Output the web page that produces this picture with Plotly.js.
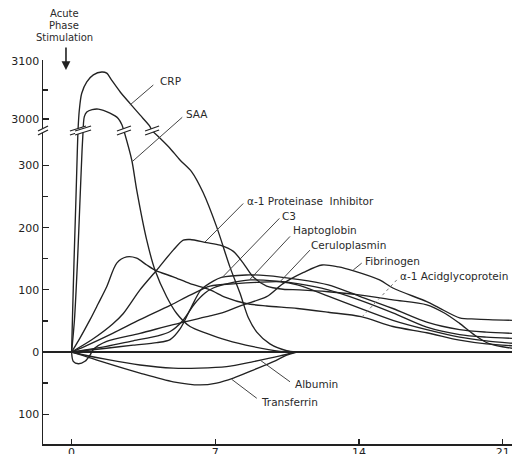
<!DOCTYPE html>
<html>
<head>
<meta charset="utf-8">
<script src="https://cdn.plot.ly/plotly-3.0.1.min.js"></script>
<style>
  html, body { margin: 0; padding: 0; background: #fff; }
  #chart { width: 512px; height: 454px; }
</style>
</head>
<body>
<div id="chart"></div>
<script>
// Days after the acute phase stimulus and change in plasma concentration (% of baseline).
// CRP and SAA climb into the thousands, so they are split at the scale break.
const crpRiseDay = [0, 0.04, 0.12, 0.21, 0.28, 0.31];
const crpRiseVal = [0, 52, 148, 245, 325, 356];
const crpPeakDay = [0.31, 0.375, 0.49, 0.74, 1.06, 1.47, 1.71, 1.95, 2.36, 2.84, 3.33, 3.82, 3.92];
const crpPeakVal = [2979, 3015, 3044, 3064, 3076, 3081, 3079, 3067, 3047, 3027, 3007, 2987, 2979];
const crpFallDay = [3.92, 4.31, 4.79, 5.28, 5.85, 6.4, 7.07, 7.71, 8.2, 8.61, 9.02, 9.66, 10.48, 10.93];
const crpFallVal = [356, 344, 328, 309, 290, 257, 201, 137, 95, 55, 32, 13, 2, 0];

const saaRiseDay = [0, 0.14, 0.29, 0.41, 0.51, 0.56];
const saaRiseVal = [0, 52, 148, 245, 325, 356];
const saaPeakDay = [0.56, 0.62, 0.74, 1.0, 1.3, 1.87, 2.27, 2.45, 2.55];
const saaPeakVal = [2979, 3004, 3012, 3016, 3017, 3010, 3001, 2990, 2979];
const saaFallDay = [2.55, 2.93, 3.17, 3.66, 4.06, 4.63, 5.12, 5.77, 6.58, 7.55, 8.85, 10.15, 10.64];
const saaFallVal = [356, 309, 261, 180, 132, 89, 62, 41, 30, 19, 8.5, 1, 0];

const a1piDay = [0, 1, 2, 2.52, 3.33, 4.15, 4.95, 5.44, 5.77, 6.58, 7.23, 7.88, 8.36, 8.84, 9.5, 10.3, 11.1, 12.5, 14, 15.65, 17.3, 18.2, 18.9, 19.6, 20.3, 21.45];
const a1piVal = [0, 20, 45, 62, 100, 132, 164, 180, 181, 176, 172, 162, 143, 121, 106, 101, 100, 97, 92, 84, 76, 62, 46, 28, 14, 6];

const c3Day = [0, 1.7, 3, 4.15, 4.8, 5.3, 5.8, 6.3, 6.9, 7.3, 8.5, 9.5, 11, 12.5, 14, 15.65, 17.3, 18.9, 20.2, 21.45];
const c3Val = [0, 6, 11, 15, 20, 38, 70, 100, 114, 120, 124, 123, 117, 108, 90, 70, 48, 36, 32, 30];

const haptoDay = [0, 1.7, 3, 4.2, 4.8, 5.4, 6, 6.5, 6.9, 7.6, 8.7, 10, 11, 12.5, 14, 15.65, 17.3, 18.9, 20.2, 21.45];
const haptoVal = [0, 9, 18, 26, 33, 50, 78, 95, 103, 110, 116, 114, 110, 100, 84, 63, 40, 28, 24, 22];

const ceruloDay = [0, 0.57, 2, 3.33, 4.8, 5.8, 6.74, 8, 9, 10.15, 11, 12.5, 14, 15.65, 17.3, 18.9, 20.2, 21.45];
const ceruloVal = [0, 8, 30, 52, 75, 92, 106, 110, 112, 113, 108, 90, 71, 51, 36, 24, 18, 14];

const fibDay = [0, 0.08, 0.33, 0.65, 0.9, 1.06, 1.71, 3.33, 4.95, 6.74, 7.23, 8.36, 9.5, 10.3, 11.3, 12.2, 13.0, 13.7, 15.0, 15.65, 17.3, 17.9, 18.9, 19.7, 21.45];
const fibVal = [0, -15, -19, -15, -5, 4, 17, 30, 44, 58, 62, 76, 89, 110, 128, 140, 137, 131, 116, 103, 81, 71, 55, 53, 51];

const agpDay = [0, 0.4, 0.9, 1.3, 1.71, 2.2, 2.68, 3.17, 3.66, 4.11, 4.95, 5.77, 6.74, 7.5, 8.5, 9.5, 11, 12.5, 14.1, 15.65, 17.3, 18.9, 20.2, 21.45];
const agpVal = [0, 22, 52, 78, 105, 143, 153, 151, 140, 131, 121, 110, 100, 88, 78, 74, 70, 64, 57, 41, 31, 19, 13, 10];

const albuminDay = [0, 0.5, 1.71, 3.33, 4.95, 6.2, 7.55, 8.85, 10.15, 10.9];
const albuminVal = [0, -4, -12, -21, -26, -26, -23.6, -15.6, -6.4, 0];

const transDay = [0, 0.5, 1.71, 3.33, 4.95, 6.25, 7.06, 7.88, 8.85, 9.83, 10.48, 10.97];
const transVal = [0, -5, -18, -34, -48, -53, -50, -42, -29, -15.6, -5, 0];

const dayTicks = [0, 7, 14, 21];
const lowTickVals = [-100, 0, 100, 200, 300];
const lowTickText = ['100', '0', '100', '200', '300'];
const highTickVals = [3000, 3100];
const highTickText = ['3000', '3100'];

const INK = '#222';
const FONT = 'DejaVu Sans, Liberation Sans, sans-serif';
const BREAK = 0.8151;   // paper height of the scale break

function curve(x, y, axis) {
  return {
    type: 'scatter', mode: 'lines', x: x, y: y, yaxis: axis,
    line: { color: INK, width: 1.35, shape: 'spline', smoothing: 0.8 },
    hoverinfo: 'skip'
  };
}

const traces = [
  curve(crpRiseDay, crpRiseVal, 'y'),
  curve(crpFallDay, crpFallVal, 'y'),
  curve(crpPeakDay, crpPeakVal, 'y2'),
  curve(saaRiseDay, saaRiseVal, 'y'),
  curve(saaFallDay, saaFallVal, 'y'),
  curve(saaPeakDay, saaPeakVal, 'y2'),
  curve(a1piDay, a1piVal, 'y'),
  curve(c3Day, c3Val, 'y'),
  curve(haptoDay, haptoVal, 'y'),
  curve(ceruloDay, ceruloVal, 'y'),
  curve(fibDay, fibVal, 'y'),
  curve(agpDay, agpVal, 'y'),
  curve(albuminDay, albuminVal, 'y'),
  curve(transDay, transVal, 'y')
];

// "//" break marks: a white gap between two slanted strokes
function breakMark(xref, xanchor, half) {
  const base = { xref: xref, yref: 'paper', xsizemode: 'pixel', ysizemode: 'pixel',
                 xanchor: xanchor, yanchor: BREAK, layer: 'above' };
  return [
    Object.assign({}, base, { type: 'path',
      path: `M ${-half},-4 L ${half},1 L ${half},5 L ${-half},0 Z`,
      fillcolor: '#fff', line: { width: 0 } }),
    Object.assign({}, base, { type: 'path',
      path: `M ${-half},-4 L ${half},1`, line: { color: INK, width: 1.3 } }),
    Object.assign({}, base, { type: 'path',
      path: `M ${-half},0 L ${half},5`, line: { color: INK, width: 1.3 } })
  ];
}

const last = a => a[a.length - 1];
let shapes = [];
[crpPeakDay[0], saaPeakDay[0]].forEach(d => { shapes = shapes.concat(breakMark('x', d, 8)); });
[last(saaPeakDay), last(crpPeakDay)].forEach(d => { shapes = shapes.concat(breakMark('x', d, 7)); });
shapes = shapes.concat(breakMark('paper', 0, 5));

// leader lines from labels to curves
function leader(x0, y0, x1, y1, yref, dash, color) {
  return { type: 'line', xref: 'x', yref: yref, x0: x0, y0: y0, x1: x1, y1: y1,
           line: { color: color || '#444', width: 1, dash: dash || 'solid' }, layer: 'above' };
}
shapes.push(
  leader(3.98, 3058.6, 2.84, 3024, 'y2'),
  leader(5.39, 0.8508, 2.95, 0.7352, 'paper'),
  leader(8.36, 239, 6.5, 177, 'y'),
  leader(10.12, 215, 7.31, 119, 'y'),
  leader(10.64, 186, 8.69, 117, 'y'),
  leader(11.61, 164, 10.15, 113, 'y'),
  leader(14.13, 143, 13.72, 132, 'y'),
  leader(15.84, 116, 14.13, 56, 'y', 'dot', '#777'),
  leader(10.64, -48, 9.18, -13, 'y'),
  leader(9.02, -74.5, 7.8, -44, 'y')
);

function label(text, x, y, yref) {
  return { text: text, x: x, y: y, xref: 'x', yref: yref, showarrow: false,
           xanchor: 'left', yanchor: 'middle',
           font: { family: FONT, size: 10.5, color: '#2a2a2a' } };
}
function head(text, y) {
  return { text: text, x: 0.045, y: y, xref: 'paper', yref: 'paper', showarrow: false,
           xanchor: 'center', yanchor: 'middle', borderpad: 0,
           font: { family: FONT, size: 10, color: '#2a2a2a' } };
}

const annotations = [
  label('CRP', 4.19, 3065.5, 'y2'),
  label('SAA', 5.47, 3008.6, 'y2'),
  label('\u03b1-1 Proteinase\u00a0 Inhibitor', 8.45, 243, 'y'),
  label('C3', 10.15, 219, 'y'),
  label('Haptoglobin', 10.69, 196, 'y'),
  label('Ceruloplasmin', 11.56, 172, 'y'),
  label('Fibrinogen', 14.19, 146.5, 'y'),
  label('\u03b1-1 Acidglycoprotein', 15.9, 122, 'y'),
  label('Albumin', 10.78, -51.5, 'y'),
  label('Transferrin', 9.13, -80.5, 'y'),
  head('Acute', 1.1211),
  head('Phase', 1.0898),
  head('Stimulation', 1.0586),
  { text: '', x: 0.049, y: 0.974, xref: 'paper', yref: 'paper', showarrow: true,
    ax: 0, ay: -24, arrowhead: 2, arrowsize: 1.1, arrowwidth: 1.6, arrowcolor: INK }
];

const tickFont = { family: FONT, size: 11, color: INK };

const layout = {
  width: 512, height: 454,
  margin: { l: 43, r: 0, t: 60, b: 10 },
  paper_bgcolor: '#fff', plot_bgcolor: '#fff',
  showlegend: false,
  xaxis: {
    range: [-1.393, 21.452], anchor: 'y',
    tickvals: dayTicks, ticks: 'inside', ticklen: 5, tickwidth: 1.2, tickcolor: INK,
    ticklabelstandoff: -3,
    showline: true, linecolor: INK, linewidth: 1.5,
    showgrid: false, zeroline: false, tickfont: tickFont
  },
  yaxis: {
    domain: [0, BREAK], range: [-148.1, 355.7], anchor: 'x',
    tickvals: lowTickVals, ticktext: lowTickText,
    ticks: 'inside', ticklen: 6, tickwidth: 1.2, tickcolor: INK,
    minor: { tickvals: [-50, 50, 150, 250], ticks: 'inside', ticklen: 5, tickcolor: INK, tickwidth: 1.2, showgrid: false },
    showline: true, linecolor: INK, linewidth: 1.5,
    showgrid: false, zeroline: true, zerolinecolor: INK, zerolinewidth: 1.5,
    tickfont: tickFont
  },
  yaxis2: {
    domain: [BREAK, 1], range: [2979.3, 3101.7], anchor: 'x',
    tickvals: highTickVals, ticktext: highTickText,
    ticks: 'inside', ticklen: 6, tickwidth: 1.2, tickcolor: INK,
    minor: { tickvals: [3050], ticks: 'inside', ticklen: 5, tickcolor: INK, tickwidth: 1.2, showgrid: false },
    showline: true, linecolor: INK, linewidth: 1.5,
    showgrid: false, zeroline: false, tickfont: tickFont
  },
  shapes: shapes,
  annotations: annotations
};

Plotly.newPlot('chart', traces, layout, { staticPlot: true, displayModeBar: false });
</script>
</body>
</html>
